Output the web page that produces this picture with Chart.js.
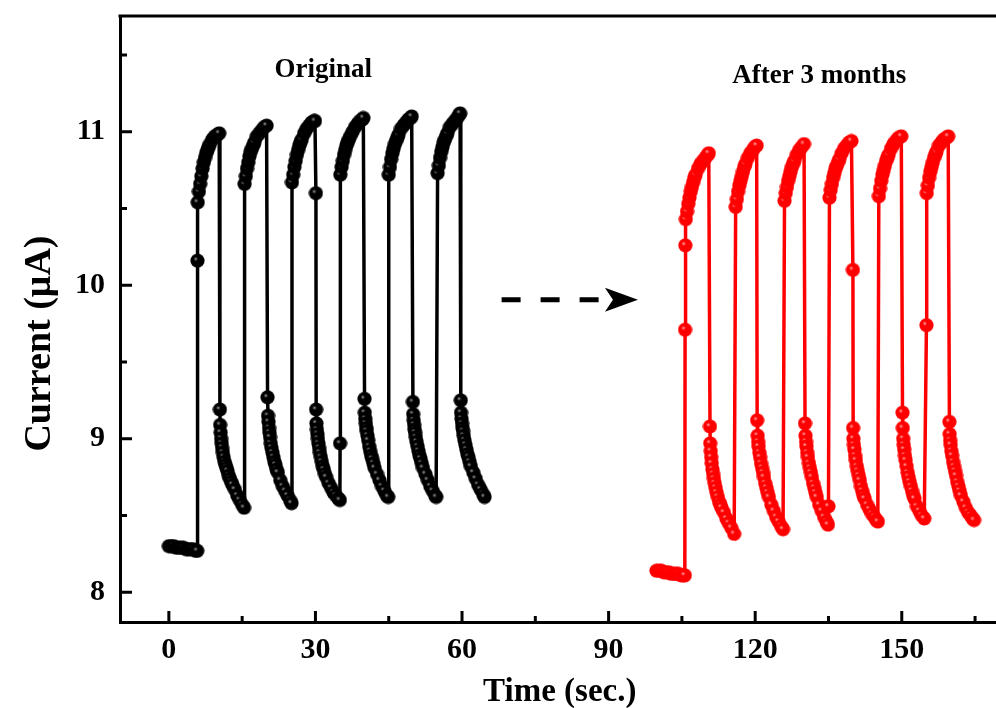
<!DOCTYPE html>
<html>
<head>
<meta charset="utf-8">
<script src="https://cdn.jsdelivr.net/npm/chart.js"></script>
<style>
  html, body { margin: 0; padding: 0; background: #fff; overflow: hidden; }
  canvas { display: block; }
</style>
</head>
<body>
<canvas id="myChart" width="1010" height="708"></canvas>
<script>
// time (s) and current (uA), one line per segment
const blackTime = [
  0, 0.5, 1, 1.5, 2, 2.5, 3, 3.5, 4, 4.5, 5, 5.5, 5.8,
  5.85, 5.9, 6.15, 6.4, 6.65, 6.9, 7.15, 7.4, 7.65, 7.9, 8.15, 8.4, 8.9, 9.4, 9.9, 10.3,
  10.45, 10.5, 10.6, 10.7, 10.8, 10.9, 11.05, 11.2, 11.4, 11.6, 11.8, 12.0, 12.25, 12.5, 12.75, 13.0, 13.5, 14.0, 14.5, 15.0, 15.4,
  15.5, 15.75, 16.0, 16.25, 16.5, 16.75, 17.0, 17.25, 17.5, 18.0, 18.5, 19.0, 19.5, 20.0,
  20.2, 20.3, 20.4, 20.5, 20.6, 20.7, 20.85, 21.0, 21.2, 21.4, 21.6, 21.8, 22.05, 22.3, 22.8, 23.3, 23.8, 24.3, 24.8, 25.1,
  25.2, 25.45, 25.7, 25.95, 26.2, 26.45, 26.7, 26.95, 27.2, 27.7, 28.2, 28.7, 29.2, 29.7, 29.9,
  30.1, 30.15, 30.2, 30.3, 30.4, 30.5, 30.6, 30.75, 30.9, 31.1, 31.3, 31.5, 31.7, 31.95, 32.2, 32.7, 33.2, 33.7, 34.2, 34.7, 35.0, 35.05,
  35.1, 35.35, 35.6, 35.85, 36.1, 36.35, 36.6, 36.85, 37.1, 37.6, 38.1, 38.6, 39.1, 39.6, 39.8,
  40.05, 40.1, 40.2, 40.3, 40.4, 40.5, 40.65, 40.8, 41.0, 41.2, 41.4, 41.6, 41.85, 42.1, 42.6, 43.1, 43.6, 44.1, 44.6, 44.9,
  45.0, 45.25, 45.5, 45.75, 46.0, 46.25, 46.5, 46.75, 47.0, 47.5, 48.0, 48.5, 49.0, 49.5, 49.7,
  49.95, 50.0, 50.1, 50.2, 50.3, 50.4, 50.55, 50.7, 50.9, 51.1, 51.3, 51.5, 51.75, 52.0, 52.5, 53.0, 53.5, 54.0, 54.5, 54.7,
  55.0, 55.25, 55.5, 55.75, 56.0, 56.25, 56.5, 56.75, 57.0, 57.5, 58.0, 58.5, 59.0, 59.4, 59.6,
  59.75, 59.8, 59.9, 60.0, 60.1, 60.2, 60.35, 60.5, 60.7, 60.9, 61.1, 61.3, 61.55, 61.8, 62.3, 62.8, 63.3, 63.8, 64.3, 64.6
];
const blackCurrent = [
  8.30, 8.30, 8.30, 8.29, 8.29, 8.29, 8.29, 8.28, 8.28, 8.28, 8.28, 8.27, 8.27,
  10.16, 10.54, 10.61, 10.66, 10.71, 10.76, 10.80, 10.83, 10.86, 10.88, 10.90, 10.92, 10.95, 10.97, 10.98, 10.99,
  9.19, 9.09, 9.04, 9.00, 8.97, 8.94, 8.91, 8.88, 8.85, 8.83, 8.81, 8.79, 8.76, 8.74, 8.72, 8.70, 8.67, 8.63, 8.60, 8.57, 8.55,
  10.66, 10.71, 10.76, 10.80, 10.84, 10.87, 10.89, 10.91, 10.93, 10.97, 10.99, 11.01, 11.03, 11.04,
  9.27, 9.15, 9.11, 9.07, 9.04, 9.01, 8.97, 8.94, 8.91, 8.88, 8.85, 8.83, 8.80, 8.78, 8.73, 8.69, 8.66, 8.63, 8.60, 8.58,
  10.67, 10.72, 10.77, 10.81, 10.85, 10.88, 10.91, 10.93, 10.95, 10.99, 11.02, 11.04, 11.06, 11.07, 11.07,
  10.60, 9.19, 9.10, 9.06, 9.03, 9.00, 8.97, 8.94, 8.91, 8.88, 8.85, 8.82, 8.80, 8.77, 8.75, 8.71, 8.68, 8.65, 8.63, 8.61, 8.60, 8.97,
  10.72, 10.77, 10.81, 10.85, 10.88, 10.91, 10.93, 10.95, 10.97, 11.00, 11.03, 11.05, 11.07, 11.08, 11.09,
  9.26, 9.17, 9.13, 9.10, 9.07, 9.05, 9.02, 8.99, 8.95, 8.92, 8.89, 8.87, 8.84, 8.81, 8.77, 8.73, 8.69, 8.66, 8.63, 8.62,
  10.72, 10.77, 10.82, 10.86, 10.89, 10.92, 10.94, 10.96, 10.98, 11.02, 11.04, 11.06, 11.08, 11.09, 11.10,
  9.24, 9.16, 9.12, 9.09, 9.06, 9.04, 9.01, 8.98, 8.95, 8.92, 8.89, 8.87, 8.84, 8.81, 8.77, 8.73, 8.69, 8.66, 8.63, 8.62,
  10.73, 10.78, 10.83, 10.87, 10.90, 10.93, 10.95, 10.97, 10.99, 11.03, 11.05, 11.07, 11.09, 11.11, 11.12,
  9.25, 9.17, 9.13, 9.10, 9.07, 9.05, 9.02, 8.99, 8.96, 8.93, 8.90, 8.88, 8.85, 8.82, 8.78, 8.74, 8.70, 8.67, 8.64, 8.62
];

const redTime = [
  99.8, 100.3, 100.8, 101.3, 101.8, 102.3, 102.8, 103.3, 103.8, 104.3, 104.8, 105.3, 105.6,
  105.65, 105.7, 105.8, 106.05, 106.3, 106.55, 106.8, 107.05, 107.3, 107.55, 107.8, 108.3, 108.8, 109.3, 109.8, 110.3, 110.5,
  110.75, 110.8, 110.9, 111.0, 111.1, 111.25, 111.4, 111.55, 111.7, 111.9, 112.1, 112.35, 112.6, 112.85, 113.1, 113.6, 114.1, 114.6, 115.1, 115.7,
  116.0, 116.25, 116.5, 116.75, 117.0, 117.25, 117.5, 117.75, 118.0, 118.5, 119.0, 119.5, 119.9, 120.3,
  120.4, 120.5, 120.6, 120.7, 120.85, 121.0, 121.2, 121.4, 121.6, 121.8, 122.05, 122.3, 122.55, 122.8, 123.3, 123.8, 124.3, 124.8, 125.3, 125.7,
  126.0, 126.25, 126.5, 126.75, 127.0, 127.25, 127.5, 127.75, 128.0, 128.5, 129.0, 129.5, 130.0,
  130.2, 130.3, 130.4, 130.5, 130.65, 130.8, 131.0, 131.2, 131.4, 131.6, 131.85, 132.1, 132.35, 132.6, 133.1, 133.6, 134.1, 134.6, 134.9, 135.0,
  135.2, 135.45, 135.7, 135.95, 136.2, 136.45, 136.7, 136.95, 137.2, 137.7, 138.2, 138.7, 139.2, 139.7,
  140.0, 140.05, 140.1, 140.2, 140.3, 140.45, 140.6, 140.8, 141.0, 141.2, 141.4, 141.65, 141.9, 142.15, 142.4, 142.9, 143.4, 143.9, 144.4, 144.8, 145.1,
  145.3, 145.55, 145.8, 146.05, 146.3, 146.55, 146.8, 147.05, 147.3, 147.8, 148.3, 148.8, 149.3, 149.9,
  150.15, 150.2, 150.3, 150.4, 150.5, 150.65, 150.8, 151.0, 151.2, 151.4, 151.6, 151.85, 152.1, 152.35, 152.6, 153.1, 153.6, 154.1, 154.6,
  155.05, 155.1, 155.35, 155.6, 155.85, 156.1, 156.35, 156.6, 156.85, 157.1, 157.6, 158.1, 158.6, 159.1, 159.5,
  159.75, 159.8, 159.9, 160.0, 160.15, 160.3, 160.5, 160.7, 160.9, 161.1, 161.35, 161.6, 161.85, 162.1, 162.6, 163.1, 163.6, 164.1, 164.5, 164.8
];
const redCurrent = [
  8.14, 8.14, 8.14, 8.13, 8.13, 8.13, 8.12, 8.12, 8.12, 8.12, 8.11, 8.11, 8.11,
  9.71, 10.26, 10.43, 10.48, 10.53, 10.57, 10.61, 10.64, 10.67, 10.70, 10.72, 10.76, 10.79, 10.81, 10.83, 10.85, 10.86,
  9.08, 8.97, 8.92, 8.88, 8.84, 8.80, 8.77, 8.74, 8.71, 8.68, 8.65, 8.62, 8.59, 8.57, 8.55, 8.52, 8.48, 8.45, 8.42, 8.38,
  10.51, 10.56, 10.61, 10.65, 10.68, 10.71, 10.74, 10.77, 10.79, 10.83, 10.86, 10.88, 10.90, 10.91,
  9.12, 9.02, 8.98, 8.95, 8.91, 8.88, 8.84, 8.81, 8.78, 8.75, 8.71, 8.68, 8.65, 8.62, 8.57, 8.53, 8.49, 8.46, 8.43, 8.41,
  10.55, 10.60, 10.64, 10.68, 10.71, 10.74, 10.77, 10.79, 10.81, 10.85, 10.88, 10.90, 10.92,
  9.10, 9.02, 8.98, 8.95, 8.91, 8.88, 8.84, 8.81, 8.78, 8.75, 8.71, 8.68, 8.65, 8.62, 8.57, 8.53, 8.49, 8.46, 8.44, 8.56,
  10.57, 10.62, 10.66, 10.70, 10.73, 10.76, 10.78, 10.80, 10.82, 10.86, 10.89, 10.91, 10.93, 10.94,
  10.10, 9.07, 9.00, 8.96, 8.93, 8.89, 8.86, 8.82, 8.79, 8.76, 8.73, 8.69, 8.66, 8.63, 8.61, 8.57, 8.54, 8.51, 8.49, 8.47, 8.46,
  10.58, 10.63, 10.68, 10.72, 10.75, 10.78, 10.81, 10.83, 10.85, 10.89, 10.92, 10.94, 10.96, 10.97,
  9.17, 9.07, 9.00, 8.96, 8.93, 8.89, 8.86, 8.82, 8.78, 8.75, 8.72, 8.69, 8.66, 8.63, 8.61, 8.56, 8.53, 8.50, 8.48,
  9.74, 10.60, 10.65, 10.70, 10.74, 10.77, 10.80, 10.83, 10.85, 10.87, 10.91, 10.93, 10.95, 10.96, 10.97,
  9.11, 9.03, 8.99, 8.96, 8.92, 8.89, 8.85, 8.82, 8.79, 8.76, 8.72, 8.69, 8.66, 8.63, 8.59, 8.55, 8.52, 8.50, 8.48, 8.47
];

const xTicks = [0, 30, 60, 90, 120, 150];
const xTickLabels = ['0', '30', '60', '90', '120', '150'];
const xMinorTicks = [15, 45, 75, 105, 135, 165];
const yTicks = [8, 9, 10, 11];
const yTickLabels = ['8', '9', '10', '11'];
const yMinorTicks = [8.5, 9.5, 10.5, 11.5];

const serif = '"Liberation Serif", "Times New Roman", serif';

function toPoints(ts, ys) {
    return ts.map((t, i) => ({ x: t, y: ys[i] }));
}

// solid ball with a small shine, like the origin markers
function ball(color, shine) {
    const c = document.createElement('canvas');
    c.width = 15; c.height = 15;
    const g = c.getContext('2d');
    const grad = g.createRadialGradient(5.8, 5.8, 0, 5.8, 5.8, 2.2);
    grad.addColorStop(0, shine);
    grad.addColorStop(1, color);
    g.fillStyle = grad;
    g.beginPath();
    g.arc(7.5, 7.5, 7.1, 0, Math.PI * 2);
    g.fill();
    return c;
}

const extras = {
    id: 'extras',
    afterDraw(chart) {
        const { ctx, chartArea: a, scales: { x, y } } = chart;
        ctx.save();
        ctx.strokeStyle = '#000';
        ctx.fillStyle = '#000';
        ctx.lineWidth = 3;
        // top frame line
        ctx.beginPath();
        ctx.moveTo(a.left - 1.5, a.top);
        ctx.lineTo(a.right + 10, a.top);
        ctx.stroke();

        // inward ticks
        ctx.beginPath();
        xTicks.forEach(v => {
            const px = x.getPixelForValue(v);
            ctx.moveTo(px, a.bottom); ctx.lineTo(px, a.bottom - 11);
        });
        xMinorTicks.forEach(v => {
            const px = x.getPixelForValue(v);
            ctx.moveTo(px, a.bottom); ctx.lineTo(px, a.bottom - 6);
        });
        yTicks.forEach(v => {
            const py = y.getPixelForValue(v);
            ctx.moveTo(a.left, py); ctx.lineTo(a.left + 12, py);
        });
        yMinorTicks.forEach(v => {
            const py = y.getPixelForValue(v);
            ctx.moveTo(a.left, py); ctx.lineTo(a.left + 7, py);
        });
        ctx.stroke();

        // labels
        ctx.font = 'bold 27px ' + serif;
        ctx.textBaseline = 'alphabetic';
        ctx.textAlign = 'left';
        ctx.fillText('Original', x.getPixelForValue(21.6), y.getPixelForValue(11.356));
        ctx.fillText('After 3 months', x.getPixelForValue(115.3), y.getPixelForValue(11.32));

        // y axis title
        ctx.save();
        ctx.font = 'bold 38px ' + serif;
        ctx.textAlign = 'center';
        ctx.textBaseline = 'middle';
        ctx.translate(40, y.getPixelForValue(9.62));
        ctx.rotate(-Math.PI / 2);
        ctx.fillText('Current (\u03bcA)', 0, 0);
        ctx.restore();

        // dashed arrow
        const ay = y.getPixelForValue(9.906);
        const x0 = x.getPixelForValue(68.1);
        const tip = x.getPixelForValue(96.0);
        ctx.lineWidth = 5;
        ctx.setLineDash([19, 20]);
        ctx.beginPath();
        ctx.moveTo(x0, ay);
        ctx.lineTo(tip - 36, ay);
        ctx.stroke();
        ctx.setLineDash([]);
        ctx.beginPath();
        ctx.moveTo(tip, ay);
        ctx.lineTo(tip - 33, ay - 12);
        ctx.lineTo(tip - 25, ay);
        ctx.lineTo(tip - 33, ay + 12);
        ctx.closePath();
        ctx.fill();
        ctx.restore();
    }
};

const ctx = document.getElementById('myChart');

new Chart(ctx, {
    type: 'scatter',
    data: {
        datasets: [{
            label: 'Original',
            data: toPoints(blackTime, blackCurrent),
            showLine: true,
            borderColor: '#000',
            borderWidth: 3.5,
            pointStyle: ball('#000', '#a0a0a0'),
            pointRadius: 7
        }, {
            label: 'After 3 months',
            data: toPoints(redTime, redCurrent),
            showLine: true,
            borderColor: '#ff0000',
            borderWidth: 3.5,
            pointStyle: ball('#ff0000', '#ffb0b0'),
            pointRadius: 7
        }]
    },
    options: {
        responsive: false,
        animation: false,
        devicePixelRatio: 1,
        layout: { padding: { top: 16, right: 8, bottom: 0, left: 0 } },
        plugins: { legend: { display: false }, tooltip: { enabled: false } },
        scales: {
            x: {
                type: 'linear',
                min: -10,
                max: 170,
                afterFit: s => { s.height = 86; s.paddingLeft = 0; s.paddingRight = 0; },
                afterBuildTicks: s => { s.ticks = xTicks.map(v => ({ value: v })); },
                grid: { display: false, drawTicks: false },
                border: { display: true, color: '#000', width: 3 },
                ticks: {
                    color: '#000',
                    padding: 10,
                    autoSkip: false,
                    maxRotation: 0,
                    font: { family: serif, size: 30, weight: 'bold' },
                    callback: v => xTickLabels[xTicks.indexOf(v)]
                },
                title: {
                    display: true,
                    text: 'Time (sec.)',
                    color: '#000',
                    font: { family: serif, size: 33, weight: 'bold', lineHeight: 1 },
                    padding: { top: 0, bottom: -1 }
                }
            },
            y: {
                type: 'linear',
                min: 7.806,
                max: 11.754,
                afterFit: s => { s.width = 120; s.paddingTop = 0; s.paddingBottom = 0; },
                afterBuildTicks: s => { s.ticks = yTicks.map(v => ({ value: v })); },
                grid: { display: false, drawTicks: false },
                border: { display: true, color: '#000', width: 3 },
                ticks: {
                    color: '#000',
                    padding: 15,
                    font: { family: serif, size: 30, weight: 'bold' },
                    callback: v => yTickLabels[yTicks.indexOf(v)]
                }
            }
        }
    },
    plugins: [extras]
});
</script>
</body>
</html>
